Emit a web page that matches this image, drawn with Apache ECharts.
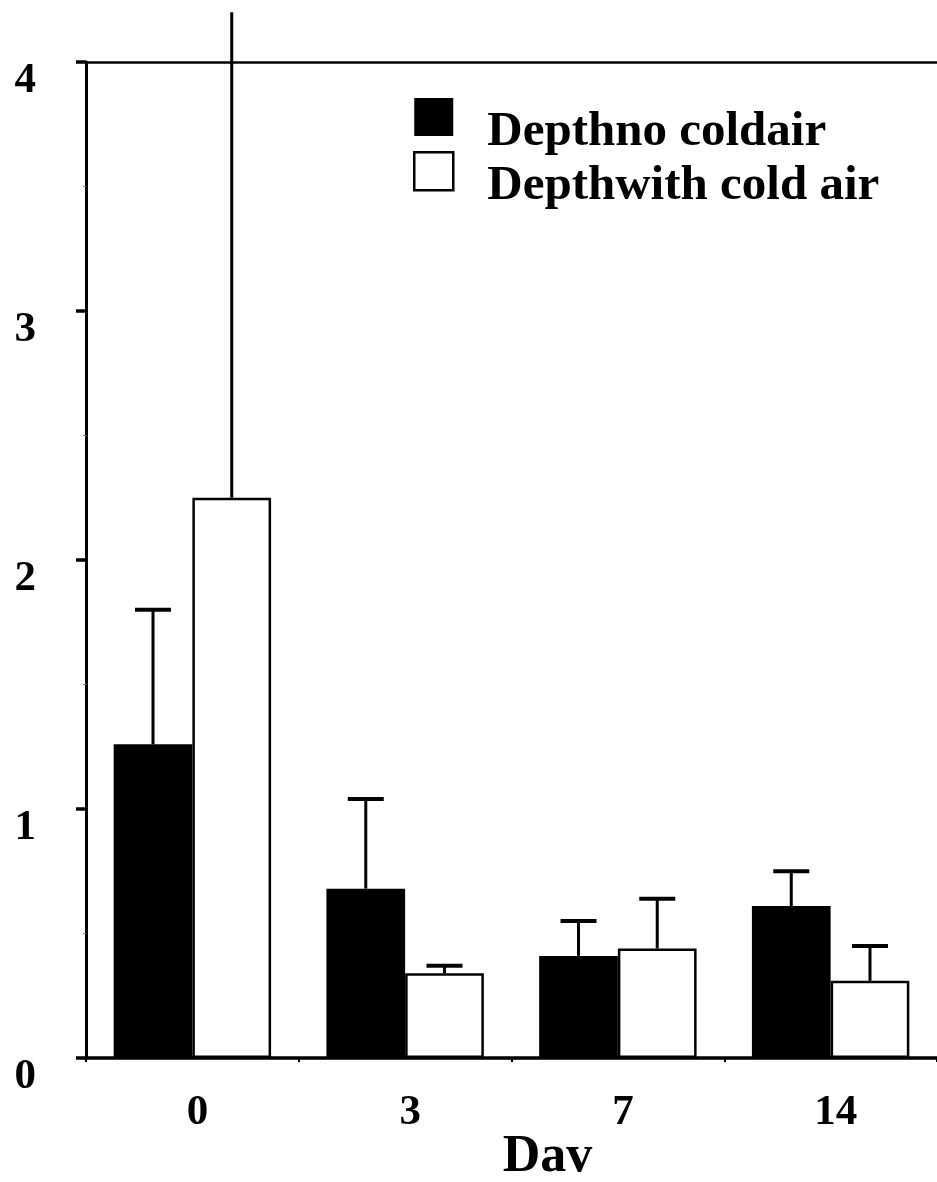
<!DOCTYPE html>
<html>
<head>
<meta charset="utf-8">
<script src="https://cdn.jsdelivr.net/npm/echarts@6/dist/echarts.min.js"></script>
<style>
  html, body { margin: 0; padding: 0; background: #fff; }
  #chart { width: 937px; height: 1182px; }
</style>
</head>
<body>
<div id="chart"></div>
<script>
// Sampling days
const days = ['0', '3', '7', '14'];
// Mean depth and standard deviation, without cold air
const noColdMean = [1.26, 0.68, 0.41, 0.61];
const noColdSD = [0.54, 0.36, 0.14, 0.14];
// Mean depth and standard deviation, with cold air
const withColdMean = [2.25, 0.34, 0.44, 0.31];
const withColdSD = [1.95, 0.03, 0.20, 0.14];
// Y axis range
const yMin = 0, yMax = 4, yStep = 1;

const seriesNames = ['Depthno coldair', 'Depthwith cold air'];
const FONT = "'Liberation Serif', 'Times New Roman', serif";
const BAR_FRAC = 0.37;

// Upper error bar drawn from the top of a bar: stem plus a cap
function errorBar(sign) {
  return function (params, api) {
    const i = api.value(0);
    const mean = api.value(1);
    const top = api.value(2);
    const bandW = api.size([1, 0])[0];
    const cx = api.coord([i, 0])[0] + sign * bandW * BAR_FRAC / 2;
    const yBase = api.coord([i, mean])[1];
    const yTop = api.coord([i, top])[1];
    const children = [{
      type: 'line',
      shape: { x1: cx, y1: yBase, x2: cx, y2: yTop },
      style: { stroke: '#000', lineWidth: 3 }
    }];
    // the cap is left off when the bar runs past the top of the scale
    if (top <= yMax) {
      children.push({
        type: 'line',
        shape: { x1: cx - 18, y1: yTop, x2: cx + 18, y2: yTop },
        style: { stroke: '#000', lineWidth: 4 }
      });
    }
    return { type: 'group', children: children };
  };
}

const chart = echarts.init(document.getElementById('chart'));
chart.setOption({
  animation: false,
  backgroundColor: '#fff',
  grid: { left: 86, right: 0, top: 62, bottom: 124, outerBoundsMode: 'none', containLabel: false },
  legend: {
    orient: 'vertical',
    left: 408,
    top: 93,
    itemWidth: 39,
    itemHeight: 38,
    itemGap: -6,
    selectedMode: false,
    formatter: '{t|{name}}',
    textStyle: {
      fontFamily: FONT, fontWeight: 'bold', fontSize: 49, color: '#000',
      rich: {
        t: {
          fontFamily: FONT, fontWeight: 'bold', fontSize: 49, color: '#000',
          lineHeight: 80, verticalAlign: 'bottom', padding: [0, 0, 0, 29]
        }
      }
    },
    data: [
      { name: seriesNames[0], icon: 'rect', itemStyle: { color: '#000', borderColor: '#000', borderWidth: 0 } },
      { name: seriesNames[1], icon: 'rect', itemStyle: { color: '#fff', borderColor: '#000', borderWidth: 2.5 } }
    ]
  },
  xAxis: [{
    type: 'category',
    data: days,
    position: 'bottom',
    axisLine: { show: true, lineStyle: { color: '#000', width: 3.5 } },
    axisTick: { show: true, length: 4, lineStyle: { color: '#000', width: 2 } },
    axisLabel: {
      fontFamily: FONT, fontWeight: 'bold', fontSize: 43, color: '#000',
      margin: 33, padding: [0, 0, 0, 10]
    },
    name: 'Dav',
    nameLocation: 'middle',
    nameGap: 74,
    nameMoveOverlap: false,
    nameTextStyle: {
      fontFamily: FONT, fontWeight: 'bold', fontSize: 52, color: '#000',
      padding: [0, 0, 0, 72]
    }
  }, {
    type: 'category',
    data: days,
    position: 'top',
    axisLine: { show: true, lineStyle: { color: '#000', width: 2.5 } },
    axisTick: { show: false },
    axisLabel: { show: false }
  }],
  yAxis: {
    type: 'value',
    min: yMin,
    max: yMax,
    interval: yStep,
    axisLine: { show: true, lineStyle: { color: '#000', width: 3 } },
    axisTick: { show: true, length: 10, lineStyle: { color: '#000', width: 3.5 } },
    minorTick: { show: true, splitNumber: 2, length: 3, lineStyle: { color: '#888', width: 1 } },
    splitLine: { show: false },
    axisLabel: {
      fontFamily: FONT, fontWeight: 'bold', fontSize: 43, color: '#000',
      margin: 50, verticalAlign: 'top', lineHeight: 38
    }
  },
  series: [{
    name: seriesNames[0],
    type: 'bar',
    data: noColdMean,
    barWidth: (BAR_FRAC * 100) + '%',
    barGap: '0%',
    itemStyle: { color: '#000', borderColor: '#000', borderWidth: 0 }
  }, {
    name: seriesNames[1],
    type: 'bar',
    data: withColdMean,
    barWidth: (BAR_FRAC * 100) + '%',
    barGap: '0%',
    itemStyle: { color: '#fff', borderColor: '#000', borderWidth: 2.5 }
  }, {
    type: 'custom',
    renderItem: errorBar(-1),
    clip: false,
    z: 5,
    data: noColdMean.map((m, i) => [i, m, +(m + noColdSD[i]).toFixed(2)])
  }, {
    type: 'custom',
    renderItem: errorBar(1),
    clip: false,
    z: 5,
    data: withColdMean.map((m, i) => [i, m, +(m + withColdSD[i]).toFixed(2)])
  }]
});
</script>
</body>
</html>
